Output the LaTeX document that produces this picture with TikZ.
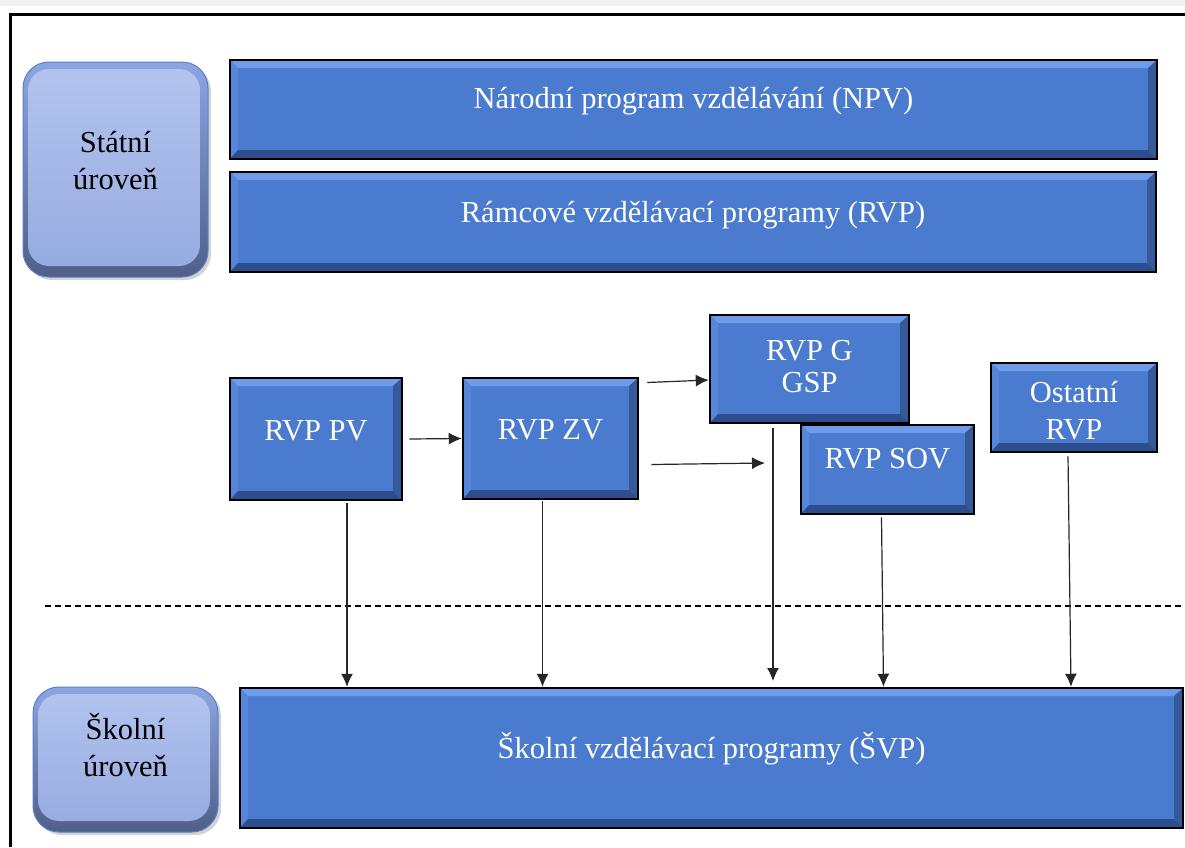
\documentclass[tikz,border=0pt]{standalone}
\usepackage{fontspec}
\setmainfont{Liberation Serif}
\usetikzlibrary{arrows.meta,shadows}

\definecolor{boxblue}{HTML}{4A7BCF}
\definecolor{bevlight}{HTML}{6E9CEB}
\definecolor{bevleft}{HTML}{5586DA}
\definecolor{bevdark}{HTML}{2D4E8C}
\definecolor{bevright}{HTML}{36599A}
\definecolor{lvledge}{HTML}{5B7EC9}
\definecolor{lvlrimtop}{HTML}{8CA6E2}
\definecolor{lvlrim}{HTML}{4F5F88}
\definecolor{lvltop}{HTML}{B3C4EE}
\definecolor{lvlbot}{HTML}{95AAE0}

% text lifted a little above the geometric centre of its box
\newcommand\liftlabel[2][6pt]{\raisebox{#1}[\height][\depth]{\begin{tabular}{@{}c@{}}#2\end{tabular}}}

\tikzset{
  progbox/.style={draw=black, line width=2.5pt, fill=boxblue, text=white,
    font=\fontsize{30.5}{37}\selectfont, inner sep=0pt,
    path picture={
      \fill[bevlight] (path picture bounding box.north west) -- (path picture bounding box.north east)
        -- ++(-8pt,-8pt) -- ([shift={(8pt,-8pt)}]path picture bounding box.north west) -- cycle;
      \fill[bevleft] (path picture bounding box.north west) -- ([shift={(8pt,-8pt)}]path picture bounding box.north west)
        -- ([shift={(8pt,9pt)}]path picture bounding box.south west) -- (path picture bounding box.south west) -- cycle;
      \fill[bevright] (path picture bounding box.north east) -- ([shift={(-9pt,-8pt)}]path picture bounding box.north east)
        -- ([shift={(-9pt,9pt)}]path picture bounding box.south east) -- (path picture bounding box.south east) -- cycle;
      \fill[bevdark] (path picture bounding box.south west) -- ([shift={(8pt,9pt)}]path picture bounding box.south west)
        -- ([shift={(-9pt,9pt)}]path picture bounding box.south east) -- (path picture bounding box.south east) -- cycle;
    }},
  levelbox/.style={rounded corners=26pt, draw=lvledge, line width=1pt,
    top color=lvlrimtop, bottom color=lvlrim, text=black,
    font=\fontsize{30.5}{37}\selectfont, inner sep=0pt,
    drop shadow={shadow xshift=3pt, shadow yshift=-3pt, opacity=0.35},
    path picture={
      \shade[top color=lvltop, bottom color=lvlbot, rounded corners=21pt]
        ([shift={(5pt,-7pt)}]path picture bounding box.north west) rectangle
        ([shift={(-8pt,11pt)}]path picture bounding box.south east);
    }},
  arr/.style={-{Latex[length=13pt,width=12pt]}, line width=1.2pt, draw=black!85},
}

\begin{document}
\begin{tikzpicture}[x=1pt,y=-1pt]
  \useasboundingbox (0,0) rectangle (1185,847);

  % page frame
  \fill[black!6] (0,0) rectangle (1185,6);
  \draw[line width=3pt] (10,847) -- (10,14) -- (1185,14);

  % levels
  \node[levelbox, minimum width=185pt, minimum height=215pt] (statni) at (115.5,169.5)
    {\liftlabel{Státní\\úroveň}};
  \node[levelbox, minimum width=185pt, minimum height=145pt] (skolni) at (125.5,759.5)
    {\liftlabel[9pt]{Školní\\úroveň}};

  % state level programmes
  \node[progbox, minimum width=927pt, minimum height=99pt] (npv) at (693.5,109.5)
    {\liftlabel[8pt]{Národní program vzdělávání (NPV)}};
  \node[progbox, minimum width=926pt, minimum height=100pt] (rvp) at (693,222)
    {\liftlabel[7pt]{Rámcové vzdělávací programy (RVP)}};

  % framework programmes
  \node[progbox, minimum width=172pt, minimum height=122pt] (pv) at (316,439)
    {\liftlabel{RVP PV}};
  \node[progbox, minimum width=175pt, minimum height=121pt] (zv) at (550.5,438.5)
    {\liftlabel{RVP ZV}};
  \node[progbox, minimum width=199pt, minimum height=108pt] (g) at (809.5,369)
    {\liftlabel[0pt]{RVP G\\[-5pt]GSP}};
  \node[progbox, minimum width=173pt, minimum height=89pt] (sov) at (887.5,469.5)
    {\liftlabel[8pt]{RVP SOV}};
  \node[progbox, minimum width=166pt, minimum height=89pt] (ost) at (1074,407.5)
    {\liftlabel[-6pt]{Ostatní\\RVP}};

  % school level programmes
  \node[progbox, minimum width=943pt, minimum height=140pt] (svp) at (711.5,758)
    {\liftlabel[7pt]{Školní vzdělávací programy (ŠVP)}};

  % boundary between the levels
  \draw[line width=1.3pt, dash pattern=on 6pt off 4pt] (45,606) -- (1185,606);

  % connectors
  \coordinate (zvout) at (765,463);
  \coordinate (vtop) at (773,428);
  \coordinate (vbot) at (773,681);

  \draw[arr] ([xshift=6pt]pv.east) -- (zv.west);
  \draw[arr] ([shift={(8pt,56pt)}]zv.east) -- ([yshift=-11pt]g.west);
  \draw[arr] ([shift={(12pt,-26pt)}]zv.east) -- (zvout);
  \draw[arr] (vtop) -- (vbot);
  \draw[arr] ([shift={(31pt,-2pt)}]pv.south) -- ([xshift=31pt]pv.south |- svp.north);
  \draw[arr] ([shift={(-8pt,-1pt)}]zv.south) -- ([xshift=-8pt]zv.south |- svp.north);
  \draw[arr] ([shift={(-6pt,-2pt)}]sov.south) -- ([xshift=-4pt]sov.south |- svp.north);
  \draw[arr] ([shift={(-6pt,-3pt)}]ost.south) -- ([xshift=-3pt]ost.south |- svp.north);
\end{tikzpicture}
\end{document}
